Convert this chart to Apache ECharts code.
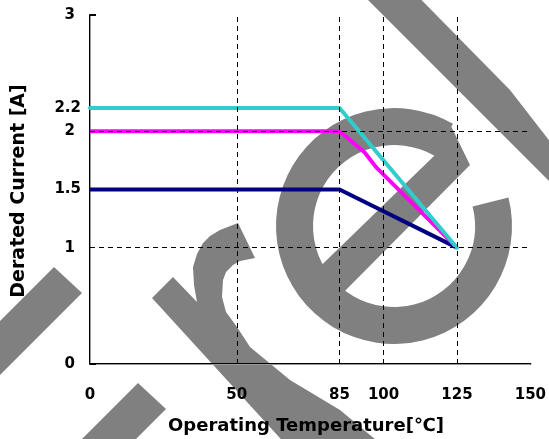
<!DOCTYPE html>
<html>
<head>
<meta charset="utf-8">
<script src="https://cdn.jsdelivr.net/npm/echarts@6/dist/echarts.min.js"></script>
<style>
  html, body { margin: 0; padding: 0; background: #fff; }
  #chart { width: 549px; height: 439px; }
</style>
</head>
<body>
<div id="chart"></div>
<script>
// tick labels
const xTicks = [0, 50, 85, 100, 125, 150];
const yTicks = [0, 1, 1.5, 2, 2.2, 3];
// dashed reference lines
const gridX = [50, 85, 100, 125];
const gridY = [1, 2];
// derating curves (temperature, current)
const navyTemps = [0, 85, 125];
const navyVals = [1.5, 1.5, 1.0];
const magTemps = [0, 85, 93.5, 97.5, 125];
const magVals = [2.0, 2.0, 1.82, 1.69, 1.0];
const cyanTemps = [0, 85, 125];
const cyanVals = [2.2, 2.2, 1.0];

const FONT = "'DejaVu Sans', sans-serif";
const pair = (xs, ys) => xs.map((x, i) => [x, ys[i]]);

const myChart = echarts.init(document.getElementById("chart"));

// gray "re" watermark behind the plot
const WM = "#808080";
const watermark = [
  { type: "polygon", shape: { points: [[54, 267], [82, 293], [-68, 443], [-96, 417]] } },
  { type: "polygon", shape: { points: [[138, 383], [166, 409], [16, 559], [-12, 533]] } },
  { type: "polygon", shape: { points: [[338, -30], [392, -30], [510, 90], [555, 148], [555, 187]] } },
  {
    type: "polygon",
    shape: {
      points: [
        [152, 298], [173, 277], [197, 302], [194, 285], [193, 267], [197, 254],
        [203, 243], [210, 236], [220, 230], [238, 223], [255, 258], [240, 261],
        [233, 265], [226, 272], [223, 280], [222, 297], [226, 312], [237, 327],
        [250, 347], [290, 380], [340, 410], [400, 460], [300, 460]
      ]
    }
  },
  {
    type: "sector",
    shape: {
      cx: 394, cy: 226, r: 118, r0: 81,
      startAngle: -14 * Math.PI / 180, endAngle: 300 * Math.PI / 180, clockwise: true
    }
  },
  { type: "polygon", shape: { points: [[300, 286], [434, 156], [450, 124], [470, 165], [330, 306]] } }
].map((el) => Object.assign(el, { z: -1, silent: true, style: { fill: WM } }));

myChart.setOption({
  backgroundColor: "#fff",
  animation: false,
  grid: { left: 90, right: 16, top: 15, bottom: 75 },
  xAxis: [
    {
      type: "value",
      min: 0,
      max: 150,
      axisLine: { lineStyle: { color: "#000", width: 2 } },
      axisTick: { show: false },
      splitLine: { show: false },
      axisLabel: {
        customValues: xTicks,
        margin: 24,
        color: "#000",
        fontFamily: FONT,
        fontWeight: "bold",
        fontSize: 15,
      },
    },
    {
      type: "value",
      position: "top",
      min: 0,
      max: 150,
      axisLine: { show: true, lineStyle: { color: "#999", width: 1 } },
      axisTick: { show: false },
      axisLabel: { show: false },
      splitLine: { show: false },
    },
  ],
  yAxis: [
    {
      type: "value",
      min: 0,
      max: 3,
      axisLine: { show: true, lineStyle: { color: "#000", width: 2 } },
      axisTick: { show: true, inside: true, length: 6, customValues: [0, 3], lineStyle: { color: "#000", width: 2 } },
      splitLine: { show: false },
      axisLabel: {
        customValues: yTicks,
        margin: 9,
        color: "#000",
        formatter: (v) => (Number.isInteger(v) ? "{i|" + v + "}" : "{d|" + v + "}"),
        rich: {
          i: { fontFamily: FONT, fontWeight: "bold", fontSize: 15, color: "#000", padding: [0, 6, 0, 0] },
          d: { fontFamily: FONT, fontWeight: "bold", fontSize: 15, color: "#000" },
        },
      },
    },
    {
      type: "value",
      position: "right",
      min: 0,
      max: 3,
      axisLine: { show: true, lineStyle: { color: "#999", width: 1 } },
      axisTick: { show: false },
      axisLabel: { show: false },
      splitLine: { show: false },
    },
  ],
  graphic: watermark.concat([
    {
      type: "text",
      z: 10,
      x: 306,
      y: 426,
      style: {
        text: "Operating Temperature[℃]",
        font: "bold 18px " + FONT,
        fill: "#000",
        align: "center",
        verticalAlign: "middle",
      },
    },
    {
      type: "text",
      z: 10,
      x: 19,
      y: 191,
      rotation: Math.PI / 2,
      style: {
        text: "Derated Current [A]",
        font: "bold 19px " + FONT,
        fill: "#000",
        align: "center",
        verticalAlign: "middle",
      },
    },
  ]),
  series: [
    {
      name: "grid",
      type: "line",
      data: [],
      silent: true,
      markLine: {
        silent: true,
        symbol: "none",
        label: { show: false },
        lineStyle: { color: "#000", type: [5, 4], width: 1 },
        data: gridX.map((v) => ({ xAxis: v })).concat(gridY.map((v) => ({ yAxis: v }))),
      },
    },
    {
      name: "1.5A",
      type: "line",
      data: pair(navyTemps, navyVals),
      showSymbol: false,
      lineStyle: { color: "#000080", width: 4, join: "round" },
    },
    {
      name: "2A",
      type: "line",
      data: pair(magTemps, magVals),
      showSymbol: false,
      lineStyle: { color: "#FF00FF", width: 4, join: "round" },
    },
    {
      name: "2.2A",
      type: "line",
      data: pair(cyanTemps, cyanVals),
      showSymbol: false,
      lineStyle: { color: "#33CCCC", width: 4, join: "round", cap: "round" },
    },
  ],
});
</script>
</body>
</html>
